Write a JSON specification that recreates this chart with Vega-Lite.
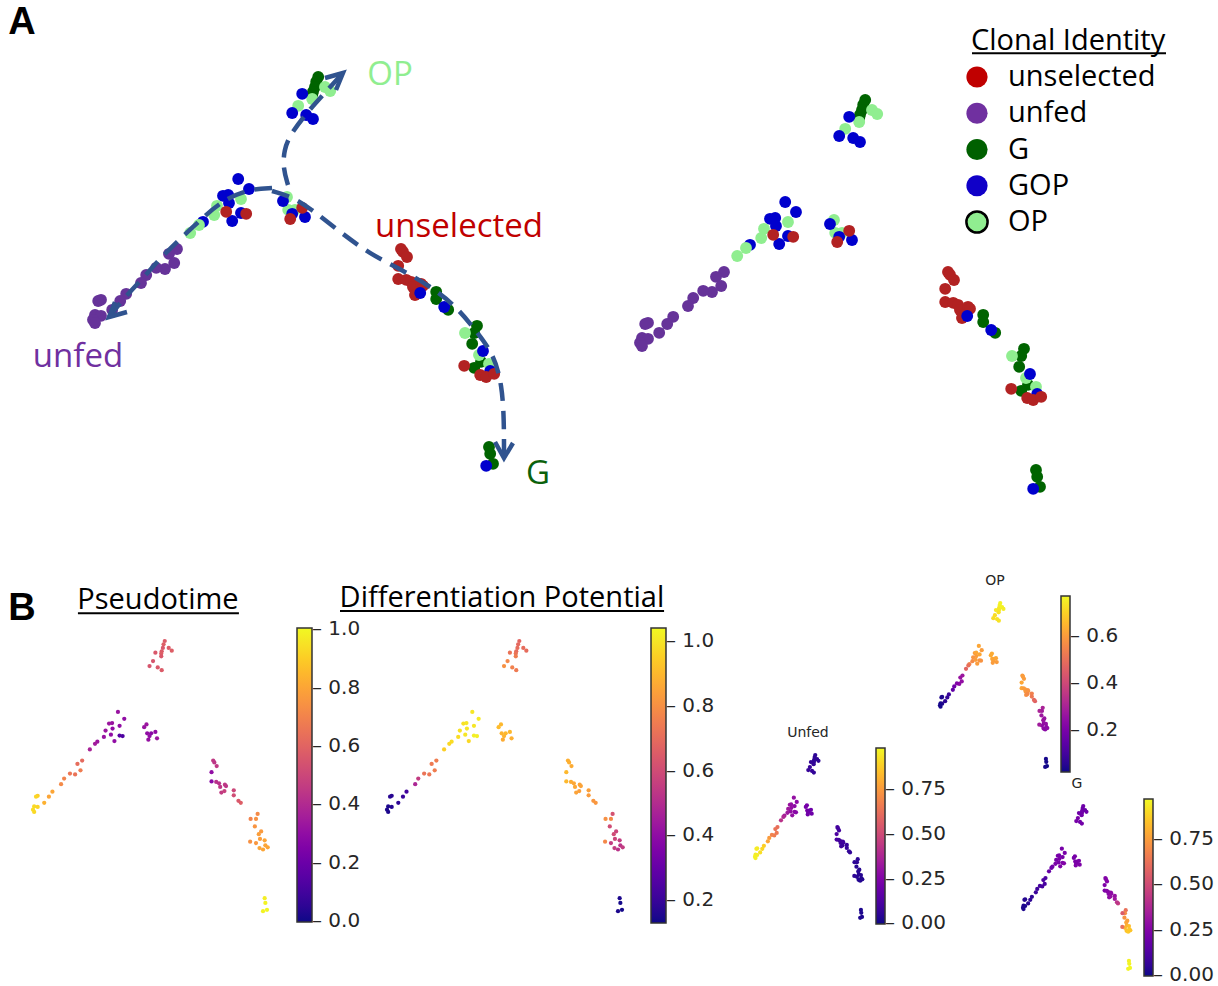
{
  "$schema": "https://vega.github.io/schema/vega-lite/v6.json",
  "width": 1218,
  "height": 986,
  "autosize": {"type": "none"},
  "padding": 0,
  "background": "white",
  "config": {"view": {"stroke": null}, "font": "Open Sans"},
  "datasets": {
    "cells": [
      {"clone":"G","u":5.63,"v":10.0,"pt":0.57,"dp":0.68,"uf":0.05,"op":0.76,"g":0.2},
      {"clone":"G","u":5.58,"v":9.88,"pt":0.58,"dp":0.69,"uf":0.05,"op":0.76,"g":0.19},
      {"clone":"G","u":5.55,"v":9.75,"pt":0.56,"dp":0.7,"uf":0.06,"op":0.75,"g":0.2},
      {"clone":"G","u":5.5,"v":9.63,"pt":0.57,"dp":0.7,"uf":0.05,"op":0.74,"g":0.21},
      {"clone":"G","u":5.48,"v":9.55,"pt":0.58,"dp":0.72,"uf":0.06,"op":0.74,"g":0.2},
      {"clone":"OP","u":5.8,"v":9.75,"pt":0.57,"dp":0.7,"uf":0.05,"op":0.76,"g":0.19},
      {"clone":"OP","u":5.93,"v":9.65,"pt":0.58,"dp":0.7,"uf":0.05,"op":0.75,"g":0.2},
      {"clone":"OP","u":5.48,"v":9.45,"pt":0.56,"dp":0.75,"uf":0.06,"op":0.73,"g":0.21},
      {"clone":"OP","u":5.13,"v":9.28,"pt":0.55,"dp":0.78,"uf":0.07,"op":0.72,"g":0.22},
      {"clone":"GOP","u":5.23,"v":9.58,"pt":0.56,"dp":0.72,"uf":0.06,"op":0.74,"g":0.2},
      {"clone":"GOP","u":4.98,"v":9.1,"pt":0.55,"dp":0.8,"uf":0.07,"op":0.72,"g":0.22},
      {"clone":"GOP","u":5.33,"v":9.05,"pt":0.56,"dp":0.76,"uf":0.07,"op":0.73,"g":0.21},
      {"clone":"GOP","u":5.5,"v":8.95,"pt":0.57,"dp":0.74,"uf":0.06,"op":0.73,"g":0.21},
      {"clone":"GOP","u":3.63,"v":7.45,"pt":0.32,"dp":1.0,"uf":0.3,"op":0.62,"g":0.22},
      {"clone":"GOP","u":3.9,"v":7.2,"pt":0.3,"dp":1.01,"uf":0.28,"op":0.6,"g":0.22},
      {"clone":"GOP","u":3.25,"v":7.03,"pt":0.33,"dp":0.99,"uf":0.32,"op":0.6,"g":0.23},
      {"clone":"GOP","u":3.38,"v":7.05,"pt":0.32,"dp":1.0,"uf":0.3,"op":0.62,"g":0.22},
      {"clone":"GOP","u":3.4,"v":6.85,"pt":0.3,"dp":1.0,"uf":0.3,"op":0.6,"g":0.23},
      {"clone":"GOP","u":3.7,"v":6.6,"pt":0.15,"dp":1.02,"uf":0.28,"op":0.58,"g":0.24},
      {"clone":"GOP","u":3.48,"v":6.4,"pt":0.3,"dp":0.97,"uf":0.3,"op":0.6,"g":0.24},
      {"clone":"GOP","u":2.75,"v":6.38,"pt":0.33,"dp":0.98,"uf":0.35,"op":0.55,"g":0.22},
      {"clone":"OP","u":3.7,"v":6.95,"pt":0.3,"dp":1.0,"uf":0.28,"op":0.62,"g":0.22},
      {"clone":"OP","u":3.1,"v":6.78,"pt":0.33,"dp":0.99,"uf":0.33,"op":0.58,"g":0.22},
      {"clone":"OP","u":3.03,"v":6.55,"pt":0.32,"dp":0.98,"uf":0.33,"op":0.56,"g":0.23},
      {"clone":"OP","u":2.65,"v":6.3,"pt":0.35,"dp":0.97,"uf":0.38,"op":0.5,"g":0.2},
      {"clone":"OP","u":2.43,"v":6.1,"pt":0.37,"dp":0.95,"uf":0.42,"op":0.47,"g":0.18},
      {"clone":"unselected","u":3.33,"v":6.63,"pt":0.3,"dp":1.0,"uf":0.3,"op":0.6,"g":0.23},
      {"clone":"unselected","u":3.83,"v":6.58,"pt":0.12,"dp":1.02,"uf":0.27,"op":0.58,"g":0.25},
      {"clone":"OP","u":4.85,"v":7.0,"pt":0.33,"dp":0.9,"uf":0.22,"op":0.63,"g":0.22},
      {"clone":"OP","u":4.88,"v":6.68,"pt":0.3,"dp":0.89,"uf":0.22,"op":0.62,"g":0.23},
      {"clone":"OP","u":5.05,"v":6.68,"pt":0.28,"dp":0.9,"uf":0.2,"op":0.62,"g":0.23},
      {"clone":"GOP","u":4.75,"v":6.9,"pt":0.32,"dp":0.91,"uf":0.22,"op":0.63,"g":0.22},
      {"clone":"GOP","u":5.3,"v":6.5,"pt":0.33,"dp":0.88,"uf":0.2,"op":0.6,"g":0.24},
      {"clone":"GOP","u":4.98,"v":6.58,"pt":0.3,"dp":0.89,"uf":0.21,"op":0.61,"g":0.23},
      {"clone":"unselected","u":5.23,"v":6.73,"pt":0.3,"dp":0.9,"uf":0.2,"op":0.62,"g":0.23},
      {"clone":"unselected","u":4.93,"v":6.45,"pt":0.31,"dp":0.87,"uf":0.21,"op":0.6,"g":0.24},
      {"clone":"unfed","u":2.1,"v":5.7,"pt":0.62,"dp":0.75,"uf":0.62,"op":0.27,"g":0.12},
      {"clone":"unfed","u":1.9,"v":5.58,"pt":0.63,"dp":0.74,"uf":0.63,"op":0.26,"g":0.12},
      {"clone":"unfed","u":2.03,"v":5.35,"pt":0.68,"dp":0.75,"uf":0.65,"op":0.25,"g":0.11},
      {"clone":"unfed","u":1.8,"v":5.2,"pt":0.65,"dp":0.73,"uf":0.66,"op":0.24,"g":0.11},
      {"clone":"unfed","u":1.58,"v":5.23,"pt":0.66,"dp":0.72,"uf":0.68,"op":0.22,"g":0.1},
      {"clone":"unfed","u":1.33,"v":5.05,"pt":0.7,"dp":0.55,"uf":0.75,"op":0.18,"g":0.09},
      {"clone":"unfed","u":1.2,"v":4.85,"pt":0.72,"dp":0.48,"uf":0.78,"op":0.15,"g":0.08},
      {"clone":"unfed","u":0.83,"v":4.58,"pt":0.8,"dp":0.22,"uf":0.88,"op":0.08,"g":0.05},
      {"clone":"unfed","u":0.68,"v":4.4,"pt":0.8,"dp":0.2,"uf":0.9,"op":0.07,"g":0.05},
      {"clone":"unfed","u":0.48,"v":4.18,"pt":0.83,"dp":0.18,"uf":0.92,"op":0.06,"g":0.04},
      {"clone":"unfed","u":0.2,"v":4.43,"pt":0.9,"dp":0.17,"uf":0.95,"op":0.04,"g":0.03},
      {"clone":"unfed","u":0.13,"v":4.4,"pt":0.92,"dp":0.17,"uf":0.95,"op":0.04,"g":0.03},
      {"clone":"unfed","u":0.05,"v":4.05,"pt":0.93,"dp":0.15,"uf":0.96,"op":0.03,"g":0.02},
      {"clone":"unfed","u":0.2,"v":4.03,"pt":0.92,"dp":0.16,"uf":0.95,"op":0.04,"g":0.02},
      {"clone":"unfed","u":0.0,"v":3.93,"pt":0.94,"dp":0.15,"uf":0.96,"op":0.03,"g":0.02},
      {"clone":"unfed","u":0.05,"v":3.85,"pt":0.93,"dp":0.15,"uf":0.96,"op":0.03,"g":0.02},
      {"clone":"unselected","u":7.7,"v":5.7,"pt":0.45,"dp":0.88,"uf":0.1,"op":0.6,"g":0.25},
      {"clone":"unselected","u":7.75,"v":5.63,"pt":0.44,"dp":0.88,"uf":0.1,"op":0.6,"g":0.25},
      {"clone":"unselected","u":7.85,"v":5.5,"pt":0.45,"dp":0.87,"uf":0.1,"op":0.6,"g":0.26},
      {"clone":"unselected","u":7.63,"v":5.28,"pt":0.3,"dp":0.9,"uf":0.12,"op":0.62,"g":0.24},
      {"clone":"unselected","u":7.63,"v":4.95,"pt":0.28,"dp":0.9,"uf":0.12,"op":0.62,"g":0.24},
      {"clone":"unselected","u":7.83,"v":4.93,"pt":0.42,"dp":0.87,"uf":0.1,"op":0.6,"g":0.26},
      {"clone":"unselected","u":7.95,"v":4.88,"pt":0.42,"dp":0.86,"uf":0.1,"op":0.6,"g":0.26},
      {"clone":"unselected","u":8.0,"v":4.75,"pt":0.44,"dp":0.86,"uf":0.09,"op":0.59,"g":0.27},
      {"clone":"unselected","u":8.2,"v":4.83,"pt":0.45,"dp":0.85,"uf":0.09,"op":0.58,"g":0.27},
      {"clone":"unselected","u":8.25,"v":4.78,"pt":0.44,"dp":0.85,"uf":0.09,"op":0.58,"g":0.28},
      {"clone":"unselected","u":8.05,"v":4.55,"pt":0.46,"dp":0.85,"uf":0.09,"op":0.57,"g":0.28},
      {"clone":"GOP","u":8.18,"v":4.6,"pt":0.48,"dp":0.84,"uf":0.08,"op":0.56,"g":0.3},
      {"clone":"G","u":8.58,"v":4.63,"pt":0.5,"dp":0.84,"uf":0.07,"op":0.54,"g":0.3},
      {"clone":"G","u":8.58,"v":4.45,"pt":0.52,"dp":0.83,"uf":0.07,"op":0.52,"g":0.32},
      {"clone":"G","u":8.88,"v":4.18,"pt":0.58,"dp":0.82,"uf":0.06,"op":0.46,"g":0.45},
      {"clone":"GOP","u":8.78,"v":4.25,"pt":0.56,"dp":0.82,"uf":0.06,"op":0.48,"g":0.42},
      {"clone":"G","u":9.6,"v":3.78,"pt":0.72,"dp":0.62,"uf":0.05,"op":0.3,"g":0.62},
      {"clone":"G","u":9.53,"v":3.6,"pt":0.74,"dp":0.78,"uf":0.05,"op":0.28,"g":0.7},
      {"clone":"G","u":9.48,"v":3.33,"pt":0.75,"dp":0.6,"uf":0.04,"op":0.27,"g":0.72},
      {"clone":"G","u":9.7,"v":2.88,"pt":0.78,"dp":0.58,"uf":0.04,"op":0.25,"g":0.8},
      {"clone":"G","u":9.53,"v":2.73,"pt":0.76,"dp":0.55,"uf":0.04,"op":0.24,"g":0.82},
      {"clone":"OP","u":9.3,"v":3.6,"pt":0.7,"dp":0.8,"uf":0.05,"op":0.3,"g":0.55},
      {"clone":"OP","u":9.65,"v":3.05,"pt":0.78,"dp":0.6,"uf":0.04,"op":0.26,"g":0.78},
      {"clone":"OP","u":9.9,"v":2.83,"pt":0.8,"dp":0.55,"uf":0.04,"op":0.25,"g":0.83},
      {"clone":"GOP","u":9.75,"v":3.15,"pt":0.77,"dp":0.58,"uf":0.04,"op":0.26,"g":0.76},
      {"clone":"GOP","u":9.93,"v":2.65,"pt":0.8,"dp":0.52,"uf":0.03,"op":0.24,"g":0.85},
      {"clone":"unselected","u":9.28,"v":2.78,"pt":0.74,"dp":0.78,"uf":0.05,"op":0.28,"g":0.62},
      {"clone":"unselected","u":9.68,"v":2.55,"pt":0.8,"dp":0.55,"uf":0.03,"op":0.24,"g":0.84},
      {"clone":"unselected","u":9.83,"v":2.5,"pt":0.8,"dp":0.52,"uf":0.03,"op":0.23,"g":0.86},
      {"clone":"unselected","u":10.03,"v":2.58,"pt":0.8,"dp":0.55,"uf":0.03,"op":0.24,"g":0.85},
      {"clone":"G","u":9.9,"v":0.75,"pt":0.98,"dp":0.15,"uf":0.02,"op":0.03,"g":0.95},
      {"clone":"G","u":9.93,"v":0.58,"pt":0.99,"dp":0.14,"uf":0.02,"op":0.03,"g":0.96},
      {"clone":"G","u":10.0,"v":0.33,"pt":1.0,"dp":0.14,"uf":0.02,"op":0.02,"g":0.97},
      {"clone":"GOP","u":9.83,"v":0.28,"pt":0.99,"dp":0.15,"uf":0.02,"op":0.03,"g":0.96}
    ],
    "arrows": [
      {"branch":"OP","part":"shaft","i":0,"u":4.875,"v":7.3},
      {"branch":"OP","part":"shaft","i":1,"u":4.75,"v":7.725},
      {"branch":"OP","part":"shaft","i":2,"u":4.775,"v":8.175},
      {"branch":"OP","part":"shaft","i":3,"u":4.925,"v":8.55},
      {"branch":"OP","part":"shaft","i":4,"u":5.3,"v":9.05},
      {"branch":"OP","part":"shaft","i":5,"u":5.725,"v":9.525},
      {"branch":"OP","part":"shaft","i":6,"u":6.25,"v":10.1},
      {"branch":"unfed","part":"shaft","i":0,"u":4.475,"v":7.225},
      {"branch":"unfed","part":"shaft","i":1,"u":3.925,"v":7.2},
      {"branch":"unfed","part":"shaft","i":2,"u":3.225,"v":6.925},
      {"branch":"unfed","part":"shaft","i":3,"u":2.525,"v":6.275},
      {"branch":"unfed","part":"shaft","i":4,"u":1.8,"v":5.6},
      {"branch":"unfed","part":"shaft","i":5,"u":1.275,"v":5.0},
      {"branch":"unfed","part":"shaft","i":6,"u":0.775,"v":4.475},
      {"branch":"unfed","part":"shaft","i":7,"u":0.4,"v":4.0},
      {"branch":"G","part":"shaft","i":0,"u":4.475,"v":7.15},
      {"branch":"G","part":"shaft","i":1,"u":4.925,"v":7.025},
      {"branch":"G","part":"shaft","i":2,"u":5.425,"v":6.725},
      {"branch":"G","part":"shaft","i":3,"u":6.175,"v":6.125},
      {"branch":"G","part":"shaft","i":4,"u":6.925,"v":5.575},
      {"branch":"G","part":"shaft","i":5,"u":7.675,"v":5.2},
      {"branch":"G","part":"shaft","i":6,"u":8.425,"v":4.775},
      {"branch":"G","part":"shaft","i":7,"u":9.075,"v":4.275},
      {"branch":"G","part":"shaft","i":8,"u":9.6,"v":3.625},
      {"branch":"G","part":"shaft","i":9,"u":10.025,"v":3.05},
      {"branch":"G","part":"shaft","i":10,"u":10.225,"v":2.3},
      {"branch":"G","part":"shaft","i":11,"u":10.275,"v":1.425},
      {"branch":"G","part":"shaft","i":12,"u":10.275,"v":0.55},
      {"branch":"OP","part":"head","i":0,"u":5.8,"v":9.975},
      {"branch":"OP","part":"head","i":1,"u":6.25,"v":10.1},
      {"branch":"OP","part":"head","i":2,"u":6.075,"v":9.675},
      {"branch":"G","part":"head","i":0,"u":10.05,"v":0.875},
      {"branch":"G","part":"head","i":1,"u":10.275,"v":0.475},
      {"branch":"G","part":"head","i":2,"u":10.5,"v":0.85},
      {"branch":"unfed","part":"head","i":0,"u":0.85,"v":4.125},
      {"branch":"unfed","part":"head","i":1,"u":0.4,"v":4.0},
      {"branch":"unfed","part":"head","i":2,"u":0.55,"v":4.375}
    ],
    "labels": [
      {"label":"OP","u":7.425,"v":10.05},
      {"label":"unselected","u":9.15,"v":6.25},
      {"label":"unfed","u":-0.375,"v":3.0},
      {"label":"G","u":11.125,"v":0.075}
    ]
  },
  "layer": [
    {
      "layer": [
        {
          "data": {"name": "cells"},
          "mark": {"type": "circle", "size": 140, "opacity": 1},
          "encoding": {
            "x": {"field": "u", "type": "quantitative", "scale": {"domain": [0, 10], "range": [93, 493], "nice": false, "zero": false}, "axis": null},
            "y": {"field": "v", "type": "quantitative", "scale": {"domain": [0, 10], "range": [477, 77], "nice": false, "zero": false}, "axis": null},
            "color": {"field": "clone", "type": "nominal", "scale": {"domain": ["unselected", "unfed", "G", "GOP", "OP"], "range": ["#b22222", "#663399", "#006400", "#0000cd", "#90ee90"]}, "legend": null}
          }
        },
        {
          "data": {"name": "arrows"},
          "transform": [{"filter": "datum.part === 'shaft'"}],
          "mark": {"type": "line", "interpolate": "basis", "strokeDash": [18, 10], "strokeWidth": 4.5, "color": "#30538f"},
          "encoding": {
            "x": {"field": "u", "type": "quantitative"},
            "y": {"field": "v", "type": "quantitative"},
            "detail": {"field": "branch"},
            "order": {"field": "i"}
          }
        },
        {
          "data": {"name": "arrows"},
          "transform": [{"filter": "datum.part === 'head'"}],
          "mark": {"type": "line", "strokeWidth": 4.5, "color": "#30538f", "strokeJoin": "miter"},
          "encoding": {
            "x": {"field": "u", "type": "quantitative"},
            "y": {"field": "v", "type": "quantitative"},
            "detail": {"field": "branch"},
            "order": {"field": "i"}
          }
        },
        {
          "data": {"name": "labels"},
          "mark": {"type": "text", "fontSize": 33, "font": "Open Sans", "align": "center", "baseline": "middle"},
          "encoding": {
            "x": {"field": "u", "type": "quantitative"},
            "y": {"field": "v", "type": "quantitative"},
            "text": {"field": "label"},
            "color": {"field": "label", "type": "nominal", "scale": {"domain": ["OP", "unselected", "unfed", "G"], "range": ["#90ee90", "#c00000", "#7030a0", "#0b610b"]}, "legend": null}
          }
        },
        {
          "data": {"values": [{}]},
          "mark": {"type": "text", "fontSize": 38, "font": "Liberation Sans", "fontWeight": "bold", "align": "center", "baseline": "middle", "color": "black"},
          "encoding": {
            "x": {"datum": -1.775, "type": "quantitative"},
            "y": {"datum": 11.34, "type": "quantitative"},
            "text": {"value": "A"}
          }
        }
      ],
      "resolve": {"scale": {"color": "independent"}}
    },
    {
      "layer": [
        {
          "data": {"name": "cells"},
          "mark": {"type": "circle", "size": 140, "opacity": 1},
          "encoding": {
            "x": {"field": "u", "type": "quantitative", "scale": {"domain": [0, 10], "range": [640, 1040], "nice": false, "zero": false}, "axis": null},
            "y": {"field": "v", "type": "quantitative", "scale": {"domain": [0, 10], "range": [500, 100], "nice": false, "zero": false}, "axis": null},
            "color": {"field": "clone", "type": "nominal", "scale": {"domain": ["unselected", "unfed", "G", "GOP", "OP"], "range": ["#b22222", "#663399", "#006400", "#0000cd", "#90ee90"]}, "legend": null}
          }
        },
        {
          "data": {"values": [{}]},
          "mark": {"type": "text", "fontSize": 29, "font": "Open Sans", "align": "left", "baseline": "alphabetic", "color": "black"},
          "encoding": {
            "x": {"datum": 8.275, "type": "quantitative"},
            "y": {"datum": 11.25, "type": "quantitative"},
            "text": {"value": "Clonal Identity"}
          }
        },
        {
          "data": {"values": [{}]},
          "mark": {"type": "rule", "strokeWidth": 2, "color": "black"},
          "encoding": {
            "x": {"datum": 8.3, "type": "quantitative"},
            "x2": {"datum": 13.15},
            "y": {"datum": 11.17, "type": "quantitative"}
          }
        }
      ]
    },
    {
      "data": {"name": "cells"},
      "transform": [{"aggregate": [{"op": "count", "as": "n"}], "groupby": ["clone"]}],
      "layer": [
        {
          "mark": {"type": "circle", "size": 450, "opacity": 1, "stroke": "black"},
          "encoding": {
            "x": {"datum": 8.425, "type": "quantitative", "scale": {"domain": [0, 10], "range": [640, 1040], "nice": false, "zero": false}, "axis": null},
            "y": {"field": "clone", "type": "ordinal", "scale": {"type": "point", "domain": ["unselected", "unfed", "G", "GOP", "OP"], "range": [77, 222], "padding": 0}, "axis": null},
            "color": {"field": "clone", "type": "nominal", "scale": {"domain": ["unselected", "unfed", "G", "GOP", "OP"], "range": ["#c00000", "#7030a0", "#006000", "#1000c8", "#90ee90"]}, "legend": null},
            "strokeWidth": {"condition": {"test": "datum.clone === 'OP'", "value": 2.5}, "value": 0}
          }
        },
        {
          "mark": {"type": "text", "fontSize": 29, "font": "Open Sans", "align": "left", "baseline": "middle", "color": "black"},
          "encoding": {
            "x": {"datum": 9.2, "type": "quantitative"},
            "y": {"field": "clone", "type": "ordinal"},
            "text": {"field": "clone"}
          }
        }
      ]
    },
    {
      "layer": [
        {
          "data": {"name": "cells"},
          "mark": {"type": "circle", "size": 18, "opacity": 1},
          "encoding": {
            "x": {"field": "u", "type": "quantitative", "scale": {"domain": [0, 10], "range": [33, 267], "nice": false, "zero": false}, "axis": null},
            "y": {"field": "v", "type": "quantitative", "scale": {"domain": [0, 10], "range": [919, 641], "nice": false, "zero": false}, "axis": null},
            "color": {
              "field": "pt", "type": "quantitative",
              "scale": {"scheme": "plasma", "domain": [-0.004, 1.004]},
              "legend": {
                "orient": "none", "legendX": 297, "legendY": 628, "padding": 0, "title": null, "direction": "vertical",
                "gradientLength": 294, "gradientThickness": 15, "gradientStrokeColor": "#333333", "gradientStrokeWidth": 1.5,
                "values": [0, 0.2, 0.4, 0.6, 0.8, 1.0], "format": ".1f", "labelExpr": "'– ' + datum.label",
                "labelFont": "DejaVu Sans", "labelFontSize": 20, "labelColor": "#262626", "labelOffset": 0, "labelOverlap": false
              }
            }
          }
        },
        {
          "data": {"values": [{}]},
          "mark": {"type": "text", "fontSize": 29, "font": "Open Sans", "align": "center", "baseline": "middle", "color": "black"},
          "encoding": {
            "x": {"datum": 5.34, "type": "quantitative"},
            "y": {"datum": 11.47, "type": "quantitative"},
            "text": {"value": "Pseudotime"}
          }
        },
        {
          "data": {"values": [{}]},
          "mark": {"type": "rule", "strokeWidth": 2, "color": "black"},
          "encoding": {
            "x": {"datum": 1.92, "type": "quantitative"},
            "x2": {"datum": 8.8},
            "y": {"datum": 11.0, "type": "quantitative"}
          }
        },
        {
          "data": {"values": [{}]},
          "mark": {"type": "text", "fontSize": 38, "font": "Liberation Sans", "fontWeight": "bold", "align": "center", "baseline": "middle", "color": "black"},
          "encoding": {
            "x": {"datum": -0.47, "type": "quantitative"},
            "y": {"datum": 11.15, "type": "quantitative"},
            "text": {"value": "B"}
          }
        }
      ]
    },
    {
      "layer": [
        {
          "data": {"name": "cells"},
          "mark": {"type": "circle", "size": 18, "opacity": 1},
          "encoding": {
            "x": {"field": "u", "type": "quantitative", "scale": {"domain": [0, 10], "range": [387, 622], "nice": false, "zero": false}, "axis": null},
            "y": {"field": "v", "type": "quantitative", "scale": {"domain": [0, 10], "range": [919, 641], "nice": false, "zero": false}, "axis": null},
            "color": {
              "field": "dp", "type": "quantitative",
              "scale": {"scheme": "plasma", "domain": [0.13, 1.04]},
              "legend": {
                "orient": "none", "legendX": 651, "legendY": 628, "padding": 0, "title": null, "direction": "vertical",
                "gradientLength": 295, "gradientThickness": 15, "gradientStrokeColor": "#333333", "gradientStrokeWidth": 1.5,
                "values": [0.2, 0.4, 0.6, 0.8, 1.0], "format": ".1f", "labelExpr": "'– ' + datum.label",
                "labelFont": "DejaVu Sans", "labelFontSize": 20, "labelColor": "#262626", "labelOffset": 0, "labelOverlap": false
              }
            }
          }
        },
        {
          "data": {"values": [{}]},
          "mark": {"type": "text", "fontSize": 29, "font": "Open Sans", "align": "center", "baseline": "middle", "color": "black"},
          "encoding": {
            "x": {"datum": 4.89, "type": "quantitative"},
            "y": {"datum": 11.55, "type": "quantitative"},
            "text": {"value": "Differentiation Potential"}
          }
        },
        {
          "data": {"values": [{}]},
          "mark": {"type": "rule", "strokeWidth": 2, "color": "black"},
          "encoding": {
            "x": {"datum": -2.0, "type": "quantitative"},
            "x2": {"datum": 11.79},
            "y": {"datum": 11.08, "type": "quantitative"}
          }
        }
      ]
    },
    {
      "layer": [
        {
          "data": {"name": "cells"},
          "mark": {"type": "circle", "size": 18, "opacity": 1},
          "encoding": {
            "x": {"field": "u", "type": "quantitative", "scale": {"domain": [0, 10], "range": [755, 862], "nice": false, "zero": false}, "axis": null},
            "y": {"field": "v", "type": "quantitative", "scale": {"domain": [0, 10], "range": [922.5, 755], "nice": false, "zero": false}, "axis": null},
            "color": {
              "field": "uf", "type": "quantitative",
              "scale": {"scheme": "plasma", "domain": [-0.004, 0.98]},
              "legend": {
                "orient": "none", "legendX": 876, "legendY": 748, "padding": 0, "title": null, "direction": "vertical",
                "gradientLength": 176, "gradientThickness": 9, "gradientStrokeColor": "#333333", "gradientStrokeWidth": 1.5,
                "values": [0, 0.25, 0.5, 0.75], "format": ".2f", "labelExpr": "'– ' + datum.label",
                "labelFont": "DejaVu Sans", "labelFontSize": 20, "labelColor": "#262626", "labelOffset": 0, "labelOverlap": false
              }
            }
          }
        },
        {
          "data": {"values": [{}]},
          "mark": {"type": "text", "fontSize": 14, "font": "DejaVu Sans", "align": "center", "baseline": "middle", "color": "#262626"},
          "encoding": {
            "x": {"datum": 4.95, "type": "quantitative"},
            "y": {"datum": 11.31, "type": "quantitative"},
            "text": {"value": "Unfed"}
          }
        }
      ]
    },
    {
      "layer": [
        {
          "data": {"name": "cells"},
          "mark": {"type": "circle", "size": 18, "opacity": 1},
          "encoding": {
            "x": {"field": "u", "type": "quantitative", "scale": {"domain": [0, 10], "range": [940, 1047], "nice": false, "zero": false}, "axis": null},
            "y": {"field": "v", "type": "quantitative", "scale": {"domain": [0, 10], "range": [771.6, 603], "nice": false, "zero": false}, "axis": null},
            "color": {
              "field": "op", "type": "quantitative",
              "scale": {"scheme": "plasma", "domain": [0.02, 0.77]},
              "legend": {
                "orient": "none", "legendX": 1061, "legendY": 596, "padding": 0, "title": null, "direction": "vertical",
                "gradientLength": 176, "gradientThickness": 9, "gradientStrokeColor": "#333333", "gradientStrokeWidth": 1.5,
                "values": [0.2, 0.4, 0.6], "format": ".1f", "labelExpr": "'– ' + datum.label",
                "labelFont": "DejaVu Sans", "labelFontSize": 20, "labelColor": "#262626", "labelOffset": 0, "labelOverlap": false
              }
            }
          }
        },
        {
          "data": {"values": [{}]},
          "mark": {"type": "text", "fontSize": 14, "font": "DejaVu Sans", "align": "center", "baseline": "middle", "color": "#262626"},
          "encoding": {
            "x": {"datum": 5.14, "type": "quantitative"},
            "y": {"datum": 11.3, "type": "quantitative"},
            "text": {"value": "OP"}
          }
        }
      ]
    },
    {
      "layer": [
        {
          "data": {"name": "cells"},
          "mark": {"type": "circle", "size": 18, "opacity": 1},
          "encoding": {
            "x": {"field": "u", "type": "quantitative", "scale": {"domain": [0, 10], "range": [1023, 1130], "nice": false, "zero": false}, "axis": null},
            "y": {"field": "v", "type": "quantitative", "scale": {"domain": [0, 10], "range": [973.5, 806], "nice": false, "zero": false}, "axis": null},
            "color": {
              "field": "g", "type": "quantitative",
              "scale": {"scheme": "plasma", "domain": [-0.004, 0.97]},
              "legend": {
                "orient": "none", "legendX": 1144, "legendY": 799, "padding": 0, "title": null, "direction": "vertical",
                "gradientLength": 177, "gradientThickness": 9, "gradientStrokeColor": "#333333", "gradientStrokeWidth": 1.5,
                "values": [0, 0.25, 0.5, 0.75], "format": ".2f", "labelExpr": "'– ' + datum.label",
                "labelFont": "DejaVu Sans", "labelFontSize": 20, "labelColor": "#262626", "labelOffset": 0, "labelOverlap": false
              }
            }
          }
        },
        {
          "data": {"values": [{}]},
          "mark": {"type": "text", "fontSize": 14, "font": "DejaVu Sans", "align": "center", "baseline": "middle", "color": "#262626"},
          "encoding": {
            "x": {"datum": 5.05, "type": "quantitative"},
            "y": {"datum": 11.31, "type": "quantitative"},
            "text": {"value": "G"}
          }
        }
      ]
    }
  ],
  "resolve": {
    "scale": {"x": "independent", "y": "independent", "color": "independent", "strokeWidth": "independent"},
    "legend": {"color": "independent"}
  }
}
